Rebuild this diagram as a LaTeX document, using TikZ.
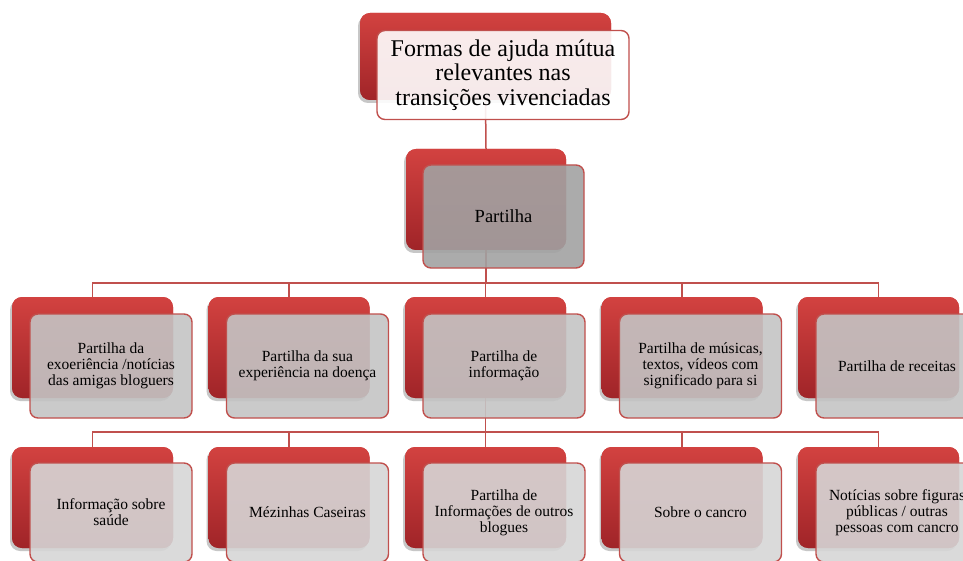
\documentclass[tikz,border=0pt]{standalone}
\usepackage{fontspec}
\setmainfont{Liberation Serif}
\usetikzlibrary{shadows}
\definecolor{lnred}{RGB}{192,80,77}
\definecolor{redtop}{RGB}{210,66,64}
\definecolor{redbot}{RGB}{160,36,40}
\definecolor{ftop}{RGB}{255,255,255}
\definecolor{fpart}{RGB}{162,162,162}
\definecolor{flevtwo}{RGB}{196,196,196}
\definecolor{flevthree}{RGB}{214,214,214}
\tikzset{
  backbox/.style={shade, top color=redtop, bottom color=redbot, rounded corners=10pt,
    inner sep=0pt, minimum width=161pt, minimum height=101pt,
    drop shadow={shadow xshift=-2pt, shadow yshift=-3pt, opacity=0.25}},
  frontbox/.style={draw=lnred, line width=1.4pt, rounded corners=8pt, fill opacity=0.9,
    text opacity=1, inner sep=1pt, align=center, minimum width=162pt, minimum height=104pt},
  conn/.style={draw=lnred, line width=1.5pt},
  smalltxt/.style={font=\fontsize{15.5}{16}\selectfont},
}
\begin{document}
\begin{tikzpicture}[x=1pt,y=-1pt]
\useasboundingbox (0,0) rectangle (963,561);
\clip (0,0) rectangle (963,561);
\coordinate (busA) at (0,283);
\coordinate (busB) at (0,432);
% red back boxes (named); connectors; boxes redrawn over connectors
\node[backbox, minimum width=251pt, minimum height=87pt] (topr) at (485.5,56.5) {};
\node[backbox, minimum width=160pt] (partr) at (486,199.5) {};
\foreach \i in {1,...,5}{
  \node[backbox] (lr\i) at ({92.5+196.5*(\i-1)},347.5) {};
  \node[backbox] (mr\i) at ({92.5+196.5*(\i-1)},497.5) {};
}
\draw[conn] (topr.south) -- (partr.north);
\foreach \i in {1,...,5}{
  \draw[conn] (partr.south) -- (partr.south |- busA) -| (lr\i.north);
  \draw[conn] (lr3.south) -- (lr3.south |- busB) -| (mr\i.north);
}
\node[backbox, minimum width=251pt, minimum height=87pt] at (485.5,56.5) {};
\node[backbox, minimum width=160pt] at (486,199.5) {};
\foreach \i in {1,...,5}{
  \node[backbox] at ({92.5+196.5*(\i-1)},347.5) {};
  \node[backbox] at ({92.5+196.5*(\i-1)},497.5) {};
}
% front boxes
\node[frontbox, fill=ftop, minimum width=252pt, minimum height=89pt,
  font=\fontsize{24}{24.5}\selectfont] (top) at (503,75)
  {Formas de ajuda mútua\\relevantes nas\\transições vivenciadas};
\node[frontbox, fill=fpart, minimum width=161pt, minimum height=103pt,
  font=\fontsize{18.5}{20}\selectfont] (part) at (503.5,216.5) {Partilha};
\node[frontbox, fill=flevtwo, smalltxt] (l1) at (111,366) {Partilha da\\exoeriência /notícias\\das amigas bloguers};
\node[frontbox, fill=flevtwo, smalltxt] (l2) at (307.5,366) {Partilha da sua\\experiência na doença};
\node[frontbox, fill=flevtwo, smalltxt] (l3) at (504,366) {Partilha de\\informação};
\node[frontbox, fill=flevtwo, smalltxt] (l4) at (700.5,366) {Partilha de músicas,\\textos, vídeos com\\significado para si};
\node[frontbox, fill=flevtwo, smalltxt] (l5) at (897,366) {Partilha de receitas};
\node[frontbox, fill=flevthree, smalltxt, minimum height=99pt] (m1) at (111,512.5) {Informação sobre\\saúde};
\node[frontbox, fill=flevthree, smalltxt, minimum height=99pt] (m2) at (307.5,512.5) {Mézinhas Caseiras};
\node[frontbox, fill=flevthree, smalltxt, minimum height=99pt] (m3) at (504,512.5) {Partilha de\\Informações de outros\\blogues};
\node[frontbox, fill=flevthree, smalltxt, minimum height=99pt] (m4) at (700.5,512.5) {Sobre o cancro};
\node[frontbox, fill=flevthree, smalltxt, minimum height=99pt] (m5) at (897,512.5) {Notícias sobre figuras\\públicas / outras\\pessoas com cancro};
\end{tikzpicture}
\end{document}
